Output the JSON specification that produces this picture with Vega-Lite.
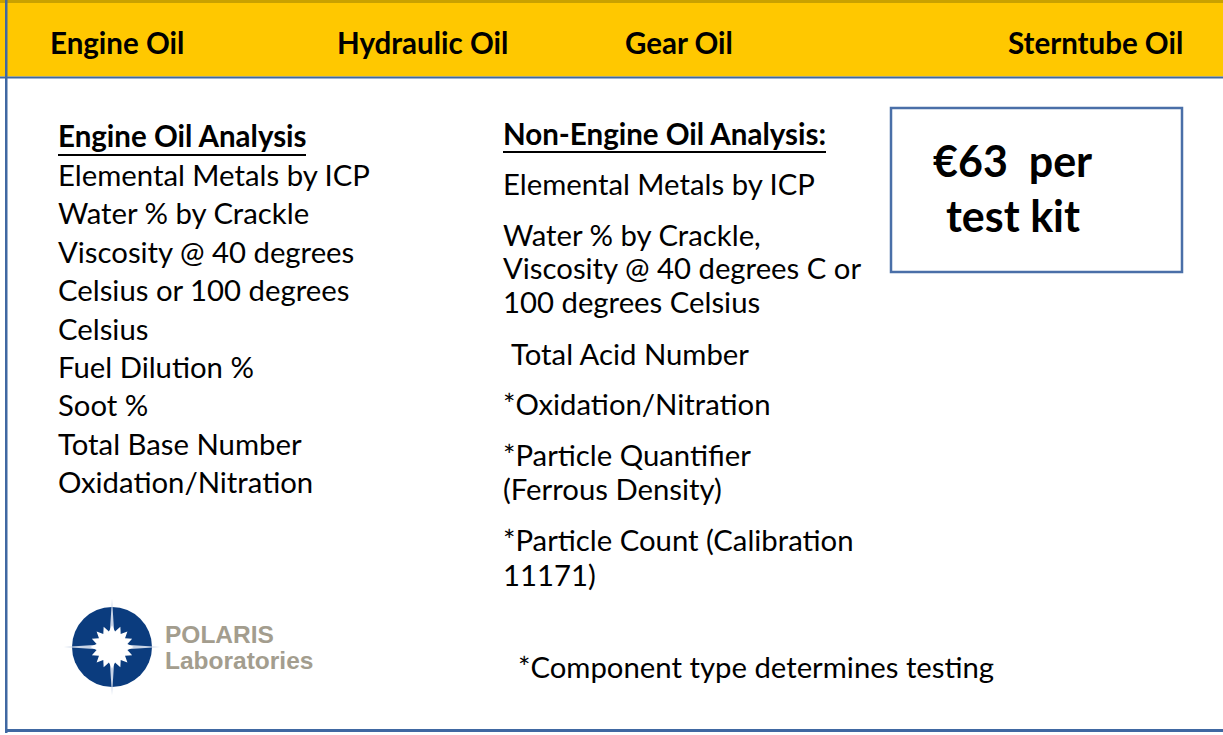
{
  "$schema": "https://vega.github.io/schema/vega-lite/v6.json",
  "width": 1223,
  "height": 735,
  "padding": 0,
  "autosize": {"type": "none"},
  "background": "white",
  "config": {"view": {"stroke": null}},
  "datasets": {
    "rects": [
      {"part": "gold", "x": 0, "x2": 1223, "y": 0, "y2": 3},
      {"part": "yellow", "x": 0, "x2": 1223, "y": 3, "y2": 76.5},
      {"part": "blue", "x": 0, "x2": 1223, "y": 76.5, "y2": 78.5},
      {"part": "blue", "x": 5, "x2": 7.5, "y": 0, "y2": 733},
      {"part": "blue", "x": 5, "x2": 1223, "y": 729, "y2": 732},
      {"part": "box", "x": 891, "x2": 1182, "y": 108, "y2": 272}
    ],
    "underlines": [
      {"x": 58, "x2": 306, "y": 155},
      {"x": 503, "x2": 826, "y": 152}
    ],
    "texts": [
      {"part": "header", "x": 50, "y": 45, "label": "Engine Oil"},
      {"part": "header", "x": 337, "y": 45, "label": "Hydraulic Oil"},
      {"part": "header", "x": 625, "y": 45, "label": "Gear Oil"},
      {"part": "header", "x": 1008, "y": 45, "label": "Sterntube Oil"},
      {"part": "heading", "x": 58, "y": 138, "label": "Engine Oil Analysis"},
      {"part": "heading", "x": 503, "y": 136, "label": "Non-Engine Oil Analysis:"},
      {"part": "body", "x": 58, "y": 177, "label": "Elemental Metals by ICP"},
      {"part": "body", "x": 58, "y": 215, "label": "Water % by Crackle"},
      {"part": "body", "x": 58, "y": 254, "label": "Viscosity @ 40 degrees"},
      {"part": "body", "x": 58, "y": 292, "label": "Celsius or 100 degrees"},
      {"part": "body", "x": 58, "y": 331, "label": "Celsius"},
      {"part": "body", "x": 58, "y": 369, "label": "Fuel Dilution %"},
      {"part": "body", "x": 58, "y": 407, "label": "Soot %"},
      {"part": "body", "x": 58, "y": 446, "label": "Total Base Number"},
      {"part": "body", "x": 58, "y": 484, "label": "Oxidation/Nitration"},
      {"part": "body", "x": 503, "y": 186, "label": "Elemental Metals by ICP"},
      {"part": "body", "x": 503, "y": 237, "label": "Water % by Crackle,"},
      {"part": "body", "x": 503, "y": 270, "label": "Viscosity @ 40 degrees C or"},
      {"part": "body", "x": 503, "y": 304, "label": "100 degrees Celsius"},
      {"part": "body", "x": 511, "y": 356, "label": "Total Acid Number"},
      {"part": "body", "x": 503, "y": 406, "label": "*Oxidation/Nitration"},
      {"part": "body", "x": 503, "y": 457, "label": "*Particle Quantifier"},
      {"part": "body", "x": 503, "y": 491, "label": "(Ferrous Density)"},
      {"part": "body", "x": 503, "y": 542, "label": "*Particle Count (Calibration"},
      {"part": "body", "x": 503, "y": 577, "label": "11171)"},
      {"part": "body", "x": 518, "y": 669, "label": "*Component type determines testing"},
      {"part": "price", "x": 933, "y": 164, "label": "€63\u00a0 per"},
      {"part": "price", "x": 946, "y": 219, "label": "test kit"},
      {"part": "logo", "x": 165, "y": 636, "label": "POLARIS"},
      {"part": "logo", "x": 165, "y": 662, "label": "Laboratories"}
    ],
    "logo": [
      {"x": 112, "y": 647}
    ]
  },
  "encoding": {
    "x": {"field": "x", "type": "quantitative", "scale": {"domain": [0, 1223]}, "axis": null},
    "y": {"field": "y", "type": "quantitative", "scale": {"domain": [0, 735], "reverse": true}, "axis": null}
  },
  "layer": [
    {
      "data": {"name": "rects"},
      "transform": [{"filter": "datum.part === 'gold'"}],
      "mark": {"type": "rect", "color": "#C9A100"},
      "encoding": {"x2": {"field": "x2"}, "y2": {"field": "y2"}}
    },
    {
      "data": {"name": "rects"},
      "transform": [{"filter": "datum.part === 'yellow'"}],
      "mark": {"type": "rect", "color": "#FFC800"},
      "encoding": {"x2": {"field": "x2"}, "y2": {"field": "y2"}}
    },
    {
      "data": {"name": "rects"},
      "transform": [{"filter": "datum.part === 'blue'"}],
      "mark": {"type": "rect", "color": "#4068A2"},
      "encoding": {"x2": {"field": "x2"}, "y2": {"field": "y2"}}
    },
    {
      "data": {"name": "rects"},
      "transform": [{"filter": "datum.part === 'box'"}],
      "mark": {"type": "rect", "fill": "white", "stroke": "#4A6FA8", "strokeWidth": 2.5},
      "encoding": {"x2": {"field": "x2"}, "y2": {"field": "y2"}}
    },
    {
      "data": {"name": "underlines"},
      "mark": {"type": "rule", "color": "black", "strokeWidth": 2},
      "encoding": {"x2": {"field": "x2"}}
    },
    {
      "data": {"name": "texts"},
      "transform": [{"filter": "datum.part === 'header'"}],
      "mark": {"type": "text", "align": "left", "baseline": "middle", "font": "Lato", "fontWeight": "bold", "fontSize": 29.5, "color": "black"},
      "encoding": {"text": {"field": "label"}}
    },
    {
      "data": {"name": "texts"},
      "transform": [{"filter": "datum.part === 'heading'"}],
      "mark": {"type": "text", "align": "left", "baseline": "middle", "font": "Lato", "fontWeight": "bold", "fontSize": 29.5, "color": "black"},
      "encoding": {"text": {"field": "label"}}
    },
    {
      "data": {"name": "texts"},
      "transform": [{"filter": "datum.part === 'body'"}],
      "mark": {"type": "text", "align": "left", "baseline": "middle", "font": "Lato", "fontSize": 29.3, "color": "black"},
      "encoding": {"text": {"field": "label"}}
    },
    {
      "data": {"name": "texts"},
      "transform": [{"filter": "datum.part === 'price'"}],
      "mark": {"type": "text", "align": "left", "baseline": "middle", "font": "Lato", "fontWeight": "bold", "fontSize": 43, "color": "black"},
      "encoding": {"text": {"field": "label"}}
    },
    {
      "data": {"name": "logo"},
      "mark": {"type": "point", "shape": "circle", "filled": true, "size": 6400, "color": "#0B3C7E", "opacity": 1},
      "encoding": {}
    },
    {
      "data": {"name": "logo"},
      "mark": {"type": "point", "shape": "M1,0 L0.06,0.06 L0,1 L-0.06,0.06 L-1,0 L-0.06,-0.06 L0,-1 L0.06,-0.06 Z", "filled": true, "size": 9400, "color": "#C9D4E6", "opacity": 1},
      "encoding": {}
    },
    {
      "data": {"name": "logo"},
      "mark": {"type": "point", "shape": "M1,0 L0.706,0.140 L0.924,0.383 L0.598,0.400 L0.707,0.707 L0.400,0.598 L0.383,0.924 L0.140,0.706 L0,1 L-0.140,0.706 L-0.383,0.924 L-0.400,0.598 L-0.707,0.707 L-0.598,0.400 L-0.924,0.383 L-0.706,0.140 L-1,0 L-0.706,-0.140 L-0.924,-0.383 L-0.598,-0.400 L-0.707,-0.707 L-0.400,-0.598 L-0.383,-0.924 L-0.140,-0.706 L0,-1 L0.140,-0.706 L0.383,-0.924 L0.400,-0.598 L0.707,-0.707 L0.598,-0.400 L0.924,-0.383 L0.706,-0.140 Z", "filled": true, "size": 1900, "color": "white", "opacity": 1},
      "encoding": {}
    },
    {
      "data": {"name": "texts"},
      "transform": [{"filter": "datum.part === 'logo'"}],
      "mark": {"type": "text", "align": "left", "baseline": "middle", "font": "Liberation Sans", "fontWeight": "bold", "fontSize": 24.5, "color": "#A39D8E"},
      "encoding": {"text": {"field": "label"}}
    }
  ]
}
